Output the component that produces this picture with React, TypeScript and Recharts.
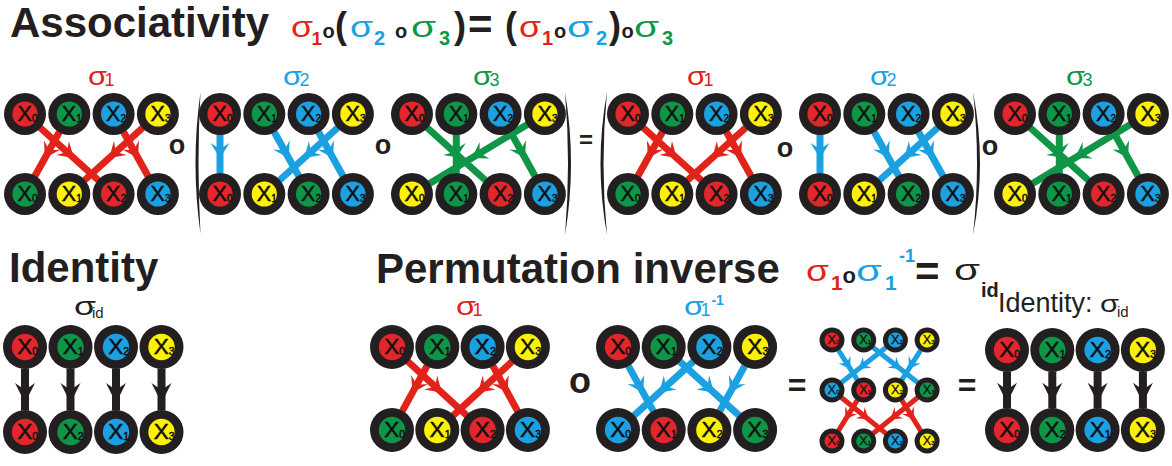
import React from 'react';
import { ScatterChart, Scatter, XAxis, YAxis, ReferenceLine } from 'recharts';

const W = 1172;
const H = 466;
const FONT = '"Liberation Sans", Arial, sans-serif';
const INK = '#231f20';

// ---- data ----
// the four elements X0..X3 and the colour each one carries
const elementColors = ['#e3262b', '#0d9647', '#1ba1e2', '#fff200'];
const plainLabels = ['0', '1', '2', '3'];
// the identity panels print their bottom row as X0, X2, X1, X3
const identityLabels = ['0', '2', '1', '3'];

// permutations: top slot i is sent to bottom slot perm[i]
const sigma1 = [2, 0, 3, 1];
const sigma2 = [0, 2, 3, 1];
const sigma3 = [2, 1, 3, 0];
const sigma1Inv = [1, 3, 0, 2];
const sigmaId = [0, 1, 2, 3];

const RED = '#e2231a';
const BLUE = '#1ba1e2';
const GREEN = '#0f9646';

// ---- layout ----
type ArrowStyle = { width: number; len: number; half: number; notch: number; at: number };
const bigArrow: ArrowStyle = { width: 7, len: 15, half: 9.5, notch: 6, at: 0.55 };
const blackArrow: ArrowStyle = { width: 8, len: 20, half: 10, notch: 7, at: 0.66 };
const smallArrow: ArrowStyle = { width: 5, len: 11, half: 7, notch: 4, at: 0.58 };

type Panel = {
  id: string;
  steps: number[][];
  colors: string[];
  x0: number;
  dx: number;
  ys: number[];
  r: number;
  arrow: ArrowStyle;
  lastLabels: string[];
};

const panels: Panel[] = [
  { id: 'a1', steps: [sigma1], colors: [RED], x0: 25, dx: 44.3, ys: [114, 194], r: 21, arrow: bigArrow, lastLabels: plainLabels },
  { id: 'a2', steps: [sigma2], colors: [BLUE], x0: 220, dx: 44.3, ys: [114, 194], r: 21, arrow: bigArrow, lastLabels: plainLabels },
  { id: 'a3', steps: [sigma3], colors: [GREEN], x0: 412, dx: 44.3, ys: [114, 194], r: 21, arrow: bigArrow, lastLabels: plainLabels },
  { id: 'a4', steps: [sigma1], colors: [RED], x0: 628, dx: 44.3, ys: [114, 194], r: 21, arrow: bigArrow, lastLabels: plainLabels },
  { id: 'a5', steps: [sigma2], colors: [BLUE], x0: 820, dx: 44.3, ys: [114, 194], r: 21, arrow: bigArrow, lastLabels: plainLabels },
  { id: 'a6', steps: [sigma3], colors: [GREEN], x0: 1015, dx: 44.3, ys: [114, 194], r: 21, arrow: bigArrow, lastLabels: plainLabels },
  { id: 'idL', steps: [sigmaId], colors: [INK], x0: 25, dx: 45.5, ys: [347, 432], r: 22, arrow: blackArrow, lastLabels: identityLabels },
  { id: 'i1', steps: [sigma1], colors: [RED], x0: 392, dx: 45.3, ys: [347, 430], r: 22, arrow: bigArrow, lastLabels: plainLabels },
  { id: 'i2', steps: [sigma1Inv], colors: [BLUE], x0: 618, dx: 45.7, ys: [347, 430], r: 22, arrow: bigArrow, lastLabels: plainLabels },
  { id: 'c', steps: [sigma1Inv, sigma1], colors: [BLUE, RED], x0: 832, dx: 31.7, ys: [340, 390, 441], r: 12.5, arrow: smallArrow, lastLabels: plainLabels },
  { id: 'idR', steps: [sigmaId], colors: [INK], x0: 1007, dx: 45.3, ys: [350, 430], r: 22, arrow: blackArrow, lastLabels: identityLabels },
];

type NodeRow = { key: string; x: number; y: number; r: number; color: string; label: string };
type ArrowRow = { key: string; x1: number; y1: number; x2: number; y2: number; color: string; r: number; style: ArrowStyle };

const nodes: NodeRow[] = [];
const arrows: ArrowRow[] = [];
panels.forEach((p) => {
  let slotColors = elementColors.slice();
  p.ys.forEach((y, row) => {
    const labels = row === p.ys.length - 1 ? p.lastLabels : plainLabels;
    slotColors.forEach((c, s) =>
      nodes.push({ key: `${p.id}-${row}-${s}`, x: p.x0 + s * p.dx, y, r: p.r, color: c, label: labels[s] })
    );
    if (row < p.steps.length) {
      const next: string[] = [];
      p.steps[row].forEach((to, from) => {
        next[to] = slotColors[from];
        arrows.push({
          key: `${p.id}-${row}-${from}`,
          x1: p.x0 + from * p.dx,
          y1: y,
          x2: p.x0 + to * p.dx,
          y2: p.ys[row + 1],
          color: p.colors[row],
          r: p.r,
          style: p.arrow,
        });
      });
      slotColors = next;
    }
  });
});

const NodeMark = (props: any) => {
  const { cx, cy, payload } = props;
  const s = payload.r / 21;
  return (
    <g>
      <circle cx={cx} cy={cy} r={payload.r} fill={INK} stroke="none" />
      <circle cx={cx} cy={cy} r={payload.r * 0.6} fill={payload.color} stroke="none" />
      <text fontFamily={FONT} fill="#111" stroke="#111" strokeWidth={0.5 * s}>
        <tspan x={cx - 7.5 * s} y={cy + 6.5 * s} fontSize={21.5 * s}>X</tspan>
        <tspan x={cx + 7 * s} y={cy + 7.5 * s} fontSize={10 * s}>{payload.label}</tspan>
      </text>
    </g>
  );
};

const ArrowMark = ({ x1, y1, x2, y2, a }: any) => {
  const dx = x2 - x1;
  const dy = y2 - y1;
  const len = Math.hypot(dx, dy);
  const ux = dx / len;
  const uy = dy / len;
  const nx = -uy;
  const ny = ux;
  const trim = a.r - 0.5;
  const st = a.style;
  const tx = x1 + dx * st.at;
  const ty = y1 + dy * st.at;
  const bx = tx - ux * st.len;
  const by = ty - uy * st.len;
  const mx = tx - ux * (st.len - st.notch);
  const my = ty - uy * (st.len - st.notch);
  const pts = [
    [tx, ty],
    [bx + nx * st.half, by + ny * st.half],
    [mx, my],
    [bx - nx * st.half, by - ny * st.half],
  ]
    .map((q) => q.join(','))
    .join(' ');
  return (
    <g>
      <line
        x1={x1 + ux * trim}
        y1={y1 + uy * trim}
        x2={x2 - ux * trim}
        y2={y2 - uy * trim}
        stroke={a.color}
        strokeWidth={st.width}
      />
      <polygon points={pts} fill={a.color} stroke="none" />
    </g>
  );
};

type Piece = { t: string; x?: number; dx?: number; y: number; size: number; fill?: string; bold?: boolean; w?: number };

// one <text> per formula, every piece placed on its own baseline
const Formula = ({ pieces }: { pieces: Piece[] }) => (
  <text fontFamily={FONT}>
    {pieces.map((p, i) => (
      <tspan
        key={i}
        x={p.x}
        dx={p.dx}
        y={p.y}
        fontSize={p.size}
        fill={p.fill ?? INK}
        fontWeight={p.bold ? 700 : 400}
        textLength={p.w}
        lengthAdjust={p.w ? 'spacingAndGlyphs' : undefined}
      >
        {p.t}
      </tspan>
    ))}
  </text>
);

const Txt = ({ t, x, y, size, fill = INK, bold = false, anchor = 'start' }: any) => (
  <text x={x} y={y} fontSize={size} fill={fill} fontWeight={bold ? 700 : 400} fontFamily={FONT} textAnchor={anchor}>
    {t}
  </text>
);

const Ring = ({ cx, cy, size }: any) => <Txt t="o" x={cx} y={cy + 0.27 * size} size={size} bold anchor="middle" />;

const Paren = ({ xTop, yTop, yBot, xMid, thick }: any) => {
  const ym = (yTop + yBot) / 2;
  const sign = xTop > xMid ? 1 : -1;
  const cOut = 2 * xMid - xTop;
  const cIn = 2 * (xMid + sign * thick) - xTop;
  return <path d={`M${xTop},${yTop} Q${cOut},${ym} ${xTop},${yBot} Q${cIn},${ym} ${xTop},${yTop} Z`} fill={INK} />;
};

const groupLabels = [
  { x: 88, sub: '1', c: RED },
  { x: 283, sub: '2', c: BLUE },
  { x: 473, sub: '3', c: GREEN },
  { x: 687, sub: '1', c: RED },
  { x: 870, sub: '2', c: BLUE },
  { x: 1066, sub: '3', c: GREEN },
];

const SG = 30; // σ size in the two formulas
const SW = 22; // σ advance in the two formulas
const topFormula: Piece[] = [
  { t: 'σ', x: 291, y: 37, size: SG, fill: RED, w: SW },
  { t: '1', x: 311.5, y: 45, size: 19, fill: RED, bold: true },
  { t: 'o', x: 322.5, y: 37.5, size: 20, bold: true },
  { t: '(', x: 335, y: 38, size: 36, bold: true },
  { t: 'σ', x: 350, y: 37, size: SG, fill: BLUE, w: 23 },
  { t: '2', x: 374, y: 45, size: 20, fill: BLUE, bold: true },
  { t: 'o', x: 395, y: 37.5, size: 20, bold: true },
  { t: 'σ', x: 411, y: 37, size: SG, fill: GREEN, w: 25 },
  { t: '3', x: 439, y: 45, size: 20, fill: GREEN, bold: true },
  { t: ')', x: 454, y: 38, size: 36, bold: true },
  { t: '=', x: 468, y: 39, size: 42, bold: true },
  { t: '(', x: 505, y: 38, size: 36, bold: true },
  { t: 'σ', x: 519, y: 37, size: SG, fill: RED, w: SW },
  { t: '1', x: 542, y: 45, size: 20, fill: RED, bold: true },
  { t: 'o', x: 554, y: 37.5, size: 20, bold: true },
  { t: 'σ', x: 567, y: 37, size: SG, fill: BLUE, w: 26 },
  { t: '2', x: 596, y: 45, size: 20, fill: BLUE, bold: true },
  { t: ')', x: 609, y: 38, size: 36, bold: true },
  { t: 'o', x: 621.5, y: 37.5, size: 20, bold: true },
  { t: 'σ', x: 634, y: 37, size: SG, fill: GREEN, w: 25 },
  { t: '3', x: 662, y: 45, size: 20, fill: GREEN, bold: true },
];

const inverseFormula: Piece[] = [
  { t: 'σ', x: 806, y: 281, size: SG, fill: RED, w: 23 },
  { t: '1', x: 831, y: 290, size: 21, fill: RED, bold: true },
  { t: 'o', x: 842.5, y: 283, size: 22, bold: true },
  { t: 'σ', x: 856, y: 281, size: SG, fill: BLUE, w: 26 },
  { t: '1', x: 885, y: 290, size: 21, fill: BLUE, bold: true },
  { t: '-1', x: 899, y: 262, size: 18, fill: BLUE, bold: true },
  { t: '=', x: 915, y: 286, size: 42, bold: true },
  { t: 'σ', x: 954, y: 280, size: SG, w: 26 },
  { t: 'id', x: 981, y: 297, size: 20, bold: true },
];

const Overlay = () => (
  <svg width={W} height={H} style={{ position: 'absolute', left: 0, top: 0, pointerEvents: 'none' }}>
    <Txt t="Associativity" x={10} y={37} size={42} bold />
    <Txt t="Identity" x={9} y={282} size={42} bold />
    <Txt t="Permutation inverse" x={376} y={283} size={42} bold />

    <Formula pieces={topFormula} />
    <Formula pieces={inverseFormula} />

    {groupLabels.map((g, i) => (
      <Formula
        key={i}
        pieces={[
          { t: 'σ', x: g.x, y: 85, size: 25, fill: g.c, w: 19 },
          { t: g.sub, dx: 1, y: 86, size: 18, fill: g.c },
        ]}
      />
    ))}
    <Formula
      pieces={[
        { t: 'σ', x: 456, y: 315, size: 25, fill: RED, w: 20 },
        { t: '1', dx: 1, y: 316, size: 18, fill: RED },
      ]}
    />
    <Formula
      pieces={[
        { t: 'σ', x: 684, y: 315, size: 25, fill: BLUE, w: 20 },
        { t: '1', dx: 1, y: 316, size: 18, fill: BLUE },
        { t: '-1', dx: 1, y: 305, size: 14, fill: BLUE, bold: true },
      ]}
    />
    <Formula
      pieces={[
        { t: 'σ', x: 74, y: 315, size: 25, w: 22 },
        { t: 'id', dx: 2.5, y: 318, size: 15 },
      ]}
    />
    <Formula
      pieces={[
        { t: 'Identity: ', x: 998, y: 312, size: 27 },
        { t: 'σ', y: 312, size: 24, w: 19 },
        { t: 'id', dx: 2, y: 317, size: 15 },
      ]}
    />

    <Ring cx={177} cy={147} size={27} />
    <Ring cx={383} cy={147} size={27} />
    <Ring cx={785} cy={150} size={27} />
    <Ring cx={990} cy={148} size={27} />
    <Txt t="=" x={586} y={148} size={24} bold anchor="middle" />
    <Paren xTop={200.5} yTop={92} yBot={234} xMid={195.5} thick={3} />
    <Paren xTop={565} yTop={92} yBot={235} xMid={571} thick={3} />
    <Paren xTop={607} yTop={92} yBot={235} xMid={600.5} thick={3} />
    <Paren xTop={973} yTop={92} yBot={235} xMid={980} thick={3} />

    <Ring cx={580} cy={383} size={36} />
    <Txt t="=" x={797} y={396} size={32} bold anchor="middle" />
    <Txt t="=" x={967} y={396} size={32} bold anchor="middle" />
  </svg>
);

export default function App() {
  return (
    <div style={{ position: 'absolute', left: 0, top: 0, width: W, height: H, background: '#fff' }}>
      <ScatterChart width={W} height={H} margin={{ top: 0, right: 0, bottom: 0, left: 0 }}>
        <XAxis type="number" dataKey="x" domain={[0, W]} hide />
        <YAxis type="number" dataKey="y" domain={[0, H]} reversed hide />
        {arrows.map((a) => (
          <ReferenceLine
            key={a.key}
            segment={[{ x: a.x1, y: a.y1 }, { x: a.x2, y: a.y2 }]}
            ifOverflow="visible"
            shape={(p: any) => <ArrowMark {...p} a={a} />}
          />
        ))}
        <Scatter data={nodes} shape={NodeMark} isAnimationActive={false} />
      </ScatterChart>
      <Overlay />
    </div>
  );
}
